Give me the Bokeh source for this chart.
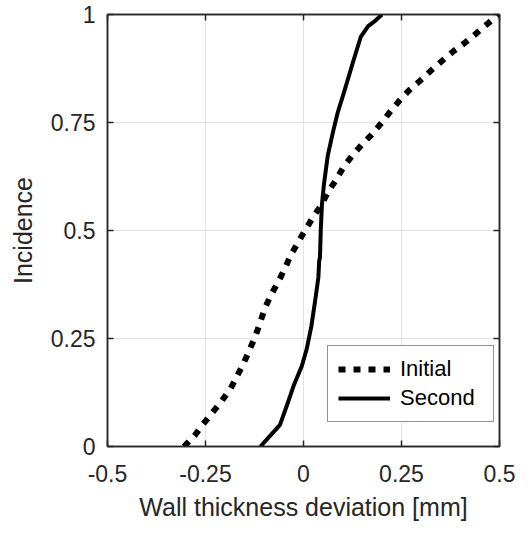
from bokeh.plotting import figure
from bokeh.models import LinearAxis, FixedTicker, Range1d, Legend, LegendItem
from bokeh.embed import file_html
from bokeh.resources import INLINE

# Data
initial_x = [-0.305, -0.278, -0.256, -0.231, -0.209, -0.186, -0.169, -0.152, -0.137, -0.122,
             -0.110, -0.098, -0.083, -0.065, -0.046, -0.033, -0.016, 0.004, 0.026, 0.046,
             0.063, 0.083, 0.102, 0.125, 0.149, 0.174, 0.199, 0.223, 0.246, 0.270,
             0.298, 0.325, 0.354, 0.384, 0.411, 0.438, 0.465, 0.495, 0.500]
initial_y = [0.000, 0.025, 0.052, 0.080, 0.105, 0.134, 0.164, 0.194, 0.225, 0.257,
             0.289, 0.321, 0.351, 0.380, 0.415, 0.442, 0.469, 0.501, 0.533, 0.560,
             0.590, 0.617, 0.647, 0.674, 0.699, 0.722, 0.749, 0.777, 0.802, 0.825,
             0.847, 0.870, 0.893, 0.916, 0.934, 0.954, 0.975, 0.998, 1.000]

second_x = [-0.110, -0.090, -0.060, -0.042, -0.025, -0.004, 0.008, 0.020, 0.030, 0.038,
            0.040, 0.042, 0.044, 0.047, 0.052, 0.062, 0.075, 0.087, 0.105, 0.125,
            0.146, 0.165, 0.181, 0.200]
second_y = [0.000, 0.020, 0.050, 0.096, 0.141, 0.187, 0.225, 0.278, 0.339, 0.392,
            0.430, 0.437, 0.499, 0.560, 0.606, 0.674, 0.727, 0.772, 0.825, 0.886,
            0.948, 0.973, 0.984, 1.000]

x_ticks = [-0.5, -0.25, 0, 0.25, 0.5]
y_ticks = [0, 0.25, 0.5, 0.75, 1]
x_tick_labels = {-0.5: "-0.5", -0.25: "-0.25", 0: "0", 0.25: "0.25", 0.5: "0.5"}
y_tick_labels = {0: "0", 0.25: "0.25", 0.5: "0.5", 0.75: "0.75", 1: "1"}
series_names = ["Initial", "Second"]

FONT = "Liberation Sans"
DARK = "#262626"

p = figure(width=515, height=523, output_backend="svg", toolbar_location=None,
           x_range=Range1d(-0.5, 0.5), y_range=Range1d(0, 1),
           min_border_left=107, min_border_right=16, min_border_top=14, min_border_bottom=75,
           x_axis_label="Wall thickness deviation [mm]", y_axis_label="Incidence")

p.outline_line_color = DARK
p.outline_line_width = 1.5
p.outline_line_alpha = 1

for ax, ticks, labels in ((p.xaxis[0], x_ticks, x_tick_labels), (p.yaxis[0], y_ticks, y_tick_labels)):
    ax.ticker = FixedTicker(ticks=ticks)
    ax.major_label_overrides = {k: v for k, v in labels.items()}
    ax.minor_tick_line_color = None
    ax.major_tick_in = 6
    ax.major_tick_out = 0
    ax.major_tick_line_color = DARK
    ax.major_tick_line_width = 1.5
    ax.axis_line_color = DARK
    ax.axis_line_width = 1.5
    ax.major_label_text_font = FONT
    ax.major_label_text_font_size = "23px"
    ax.major_label_text_color = DARK
    ax.axis_label_text_font = FONT
    ax.axis_label_text_font_size = "25px"
    ax.axis_label_text_font_style = "normal"
    ax.axis_label_text_color = DARK

p.xaxis[0].major_label_standoff = 18
p.xaxis[0].axis_label_standoff = 8
p.yaxis[0].major_label_standoff = 12
p.yaxis[0].axis_label_standoff = 11

# mirrored ticks on top and right (no labels)
for side, ticks in (("above", x_ticks), ("right", y_ticks)):
    ax = LinearAxis(ticker=FixedTicker(ticks=ticks), major_label_text_color=None,
                    major_tick_in=6, major_tick_out=0, minor_tick_line_color=None,
                    major_tick_line_color=DARK, major_tick_line_width=1.5,
                    axis_line_color=DARK, axis_line_width=1.5, major_label_standoff=0)
    p.add_layout(ax, side)

p.xgrid.ticker = FixedTicker(ticks=x_ticks)
p.ygrid.ticker = FixedTicker(ticks=y_ticks)
p.grid.grid_line_color = "#e3e3e3"
p.grid.grid_line_width = 1

r_init = p.line(initial_x, initial_y, line_color="black", line_width=6,
                line_dash="7 8", line_cap="butt")
r_sec = p.line(second_x, second_y, line_color="black", line_width=4, line_join="round")

legend = Legend(items=[LegendItem(label=series_names[0], renderers=[r_init]),
                       LegendItem(label=series_names[1], renderers=[r_sec])],
                location=(220, 24))
legend.label_text_font = FONT
legend.label_text_font_size = "22px"
legend.label_text_color = "black"
legend.glyph_width = 52
legend.glyph_height = 22
legend.label_height = 22
legend.label_standoff = 10
legend.label_width = 83
legend.spacing = 3
legend.padding = 10
legend.margin = 0
legend.border_line_color = DARK
legend.border_line_width = 1
legend.background_fill_color = "white"
p.add_layout(legend, "center")

open("out.html", "w").write(file_html(p, INLINE))
